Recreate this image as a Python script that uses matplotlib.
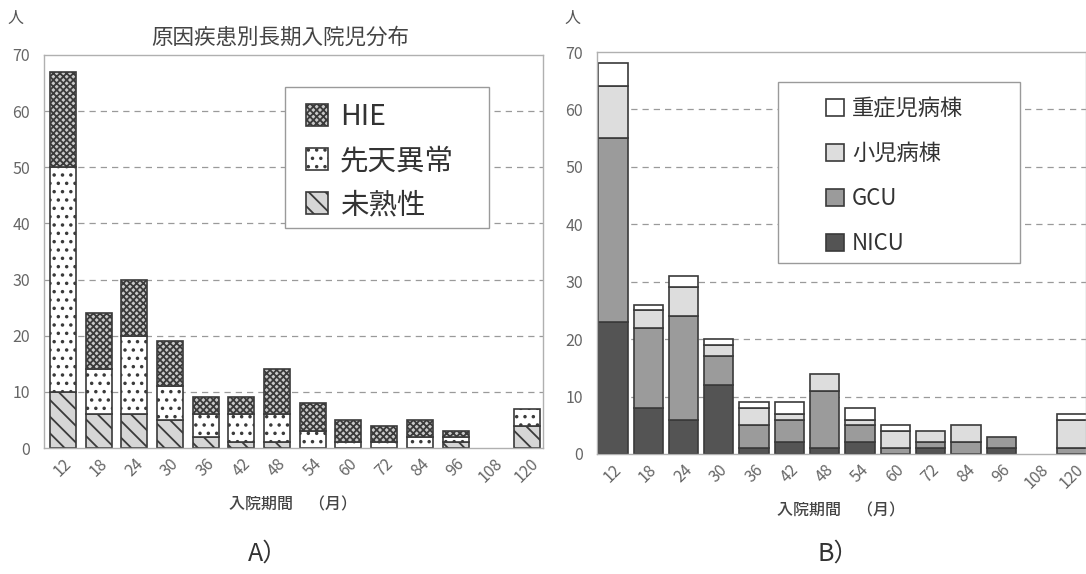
import numpy as np
import matplotlib
matplotlib.use('Agg')
import matplotlib.pyplot as plt
from matplotlib.patches import Patch, Rectangle

plt.rcParams['font.family'] = ['Noto Sans CJK JP', 'DejaVu Sans']
plt.rcParams['hatch.linewidth'] = 1.3

# 入院期間（月）
months = ['12', '18', '24', '30', '36', '42', '48', '54', '60', '72', '84', '96', '108', '120']

# A) 原因疾患別
immature = [10, 6, 6, 5, 2, 1, 1, 0, 0, 0, 0, 1, 0, 4]       # 未熟性
congenital = [40, 8, 14, 6, 4, 5, 5, 3, 1, 1, 2, 1, 0, 3]    # 先天異常
hie = [17, 10, 10, 8, 3, 3, 8, 5, 4, 3, 3, 1, 0, 0]          # HIE

# B) 病棟別
nicu = [23, 8, 6, 12, 1, 2, 1, 2, 0, 1, 0, 1, 0, 0]
gcu = [32, 14, 18, 5, 4, 4, 10, 3, 1, 1, 2, 2, 0, 1]
ped_ward = [9, 3, 5, 2, 3, 1, 3, 1, 3, 2, 3, 0, 0, 5]        # 小児病棟
sev_ward = [4, 1, 2, 1, 1, 2, 0, 2, 1, 0, 0, 0, 0, 1]        # 重症児病棟

text_gray = '#555555'
edge = '#3a3a3a'
W, H = 1086, 574

fig = plt.figure(figsize=(10.86, 5.74), dpi=100)
ax1 = fig.add_axes([0.0405, 0.2195, 0.4595, 0.6847])
ax2 = fig.add_axes([0.5497, 0.2091, 0.4503, 0.7003])

x = np.arange(len(months))


def style_axes(ax):
    ax.set_ylim(0, 70)
    ax.set_yticks(range(0, 71, 10))
    ax.set_xticks(x)
    ax.set_xticklabels(months, rotation=45, ha='center')
    ax.tick_params(axis='both', length=0, labelsize=11.5, labelcolor='#666666')
    ax.tick_params(axis='y', pad=10)
    ax.tick_params(axis='x', pad=5)
    for s in ax.spines.values():
        s.set_color('#b0b0b0')
        s.set_linewidth(1.0)
    for v in range(10, 70, 10):
        ax.axhline(v, color='#9a9a9a', lw=0.9, ls=(0, (5, 4)), zorder=0)
    ax.set_xlabel('入院期間　（月）', fontsize=11.5, color='#444444', labelpad=8, fontweight='medium')


def stack(ax, vals, bottom, width, **kw):
    # skip empty segments so they leave no flat outline on the baseline
    vals = np.asarray(vals)
    keep = vals > 0
    ax.bar(x[keep], vals[keep], width, bottom=bottom[keep], lw=1.2, zorder=2, **kw)
    return bottom + vals


def legend_box(x0, y0, x1, y1):
    # frame drawn in pixel coordinates of the whole figure
    fig.patches.append(Rectangle((x0 / W, 1 - y1 / H), (x1 - x0) / W, (y1 - y0) / H,
                                 transform=fig.transFigure, facecolor='white',
                                 edgecolor='#9a9a9a', lw=1.0, zorder=3))


# A: stacked hatch bars
w1 = 0.73
b = np.zeros(len(months))
b = stack(ax1, immature, b, w1, facecolor='#d6d6d6', edgecolor=edge, hatch='\\\\')
b = stack(ax1, congenital, b, w1, facecolor='white', edgecolor=edge, hatch='..')
b = stack(ax1, hie, b, w1, facecolor='#c8c8c8', edgecolor=edge, hatch='xxxxx')
ax1.set_xlim(-0.53, 13.45)
style_axes(ax1)

legend_box(285, 87, 489, 228)
handles_a = [
    Patch(facecolor='#c8c8c8', edgecolor=edge, hatch='xxxxx', lw=1.2),
    Patch(facecolor='white', edgecolor=edge, hatch='..', lw=1.2),
    Patch(facecolor='#d6d6d6', edgecolor=edge, hatch='\\\\', lw=1.2),
]
leg_a = fig.legend(handles_a, ['HIE', '先天異常', '未熟性'], loc='upper left',
                   bbox_to_anchor=(300 / W, 1 - 96 / H), bbox_transform=fig.transFigure,
                   fontsize=20.5, frameon=False, borderaxespad=0,
                   handlelength=0.8, handleheight=0.8, handletextpad=0.4,
                   labelspacing=0.5, borderpad=0.2)
leg_a.set_zorder(4)
for t in leg_a.get_texts():
    t.set_color('#333333')

# B: stacked gray bars
w2 = 0.83
b = np.zeros(len(months))
for vals, col in [(nicu, '#545454'), (gcu, '#9b9b9b'), (ped_ward, '#dddddd'), (sev_ward, 'white')]:
    b = stack(ax2, vals, b, w2, facecolor=col, edgecolor=edge)
ax2.set_xlim(-0.45, 13.4)
style_axes(ax2)

legend_box(778, 82, 1020, 263)
handles_b = [
    Patch(facecolor='white', edgecolor=edge, lw=1.2),
    Patch(facecolor='#dddddd', edgecolor=edge, lw=1.2),
    Patch(facecolor='#9b9b9b', edgecolor=edge, lw=1.2),
    Patch(facecolor='#545454', edgecolor=edge, lw=1.2),
]
leg_b = fig.legend(handles_b, ['重症児病棟', '小児病棟', 'GCU', 'NICU'], loc='upper left',
                   bbox_to_anchor=(822 / W, 1 - 93 / H), bbox_transform=fig.transFigure,
                   fontsize=16, frameon=False, borderaxespad=0,
                   handlelength=0.8, handleheight=0.8, handletextpad=0.35,
                   labelspacing=0.98, borderpad=0.2)
leg_b.set_zorder(4)
for t in leg_b.get_texts():
    t.set_color('#333333')

# titles and labels
fig.text(0.258, 0.934, '原因疾患別長期入院児分布', ha='center', va='center', fontsize=15.5, color='#444444')
fig.text(0.014, 0.968, '人', ha='center', va='center', fontsize=11.5, color=text_gray)
fig.text(0.527, 0.968, '人', ha='center', va='center', fontsize=11.5, color=text_gray)
fig.text(0.247, 0.036, 'A）', ha='center', va='center', fontsize=18, color='#333333')
fig.text(0.772, 0.036, 'B）', ha='center', va='center', fontsize=18, color='#333333')

fig.savefig('out.png', dpi=100, facecolor='white')
